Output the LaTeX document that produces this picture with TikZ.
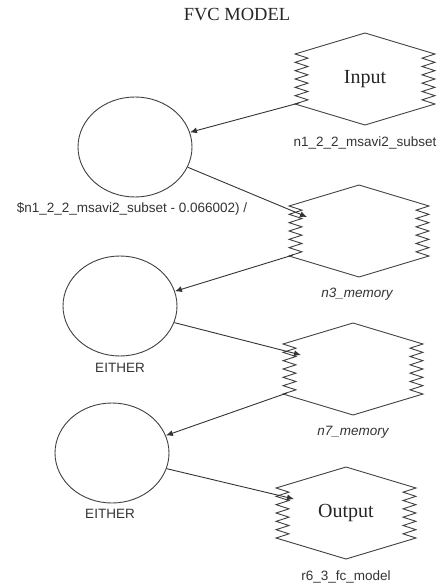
\documentclass[tikz,border=0pt]{standalone}
\usepackage{fontspec}
\setmainfont{Liberation Serif}
\newfontfamily\labfont{Liberation Sans}
\usetikzlibrary{shapes.geometric,arrows.meta,calc}
\tikzset{
  hexbox/.style={rectangle,minimum width=140pt,minimum height=92pt,inner sep=0pt,outer sep=0pt,
    font=\fontsize{20}{22}\selectfont,text=black!85},
  hexline/.style={draw=black!75,line width=0.9pt},
  oval/.style={ellipse,draw=black!75,line width=0.9pt,minimum width=114pt,minimum height=100pt,inner sep=0pt},
  lab/.style={font=\labfont\fontsize{13.5}{15}\selectfont,text=black!80,inner sep=0pt,anchor=base},
  conn/.style={draw=black!80,line width=0.9pt,-{Latex[length=7pt,width=6pt]}},
  titlestyle/.style={font=\fontsize{18.5}{20}\selectfont,text=black!85,inner sep=0pt,anchor=base}
}
\newcommand\zzhex[4]{%
  \node[hexbox] (#1) at (#2,#3) {#4};
  \coordinate (#1-out) at ($(#1.west)+(4,24)$);
  \coordinate (#1-in) at ($(#1.west)+(18,-14)$);
  \draw[hexline] ($(#1.west)+(0,-25)$) -- (#1.north) -- ($(#1.east)+(0,-25)$)
    \foreach \i in {1,...,12}{ -- ($(#1.east)+({-13*mod(\i,2)},{-25+50*\i/12})$) }
    -- (#1.south) -- ($(#1.west)+(0,25)$)
    \foreach \i in {1,...,12}{ -- ($(#1.west)+({13*mod(\i,2)},{25-50*\i/12})$) } -- cycle;
}
\begin{document}
\begin{tikzpicture}[x=1pt,y=-1pt]
  \useasboundingbox (0,0) rectangle (438,588);
  \node[titlestyle] (title) at (237,21) {FVC MODEL};

  \zzhex{in}{365}{79}{Input}
  \zzhex{n3}{359}{231}{}
  \zzhex{n7}{353}{369}{}
  \zzhex{out}{346}{513}{Output}

  \node[lab] (inlab) at (365,147) {n1\_2\_2\_msavi2\_subset};
  \node[lab] (n3lab) at (357,297) {\itshape n3\_memory};
  \node[lab] (n7lab) at (353,435) {\itshape n7\_memory};
  \node[lab] (outlab) at (346,580) {r6\_3\_fc\_model};

  \node[oval] (c1) at (135,147) {};
  \node[oval] (c2) at (120,306) {};
  \node[oval] (c3) at (112,453) {};

  \node[lab] (c1lab) at (132,212) {\$n1\_2\_2\_msavi2\_subset - 0.066002) /};
  \node[lab] (c2lab) at (120,372) {EITHER};
  \node[lab] (c3lab) at (110,518) {EITHER};

  \draw[conn] (in-out) -- (c1.15);
  \draw[conn] (c1.-21) -- (n3-in);
  \draw[conn] (n3-out) -- (c2.15);
  \draw[conn] (c2.-17) -- (n7-in);
  \draw[conn] (n7-out) -- (c3.18);
  \draw[conn] (c3.-16) -- (out-in);
\end{tikzpicture}
\end{document}
